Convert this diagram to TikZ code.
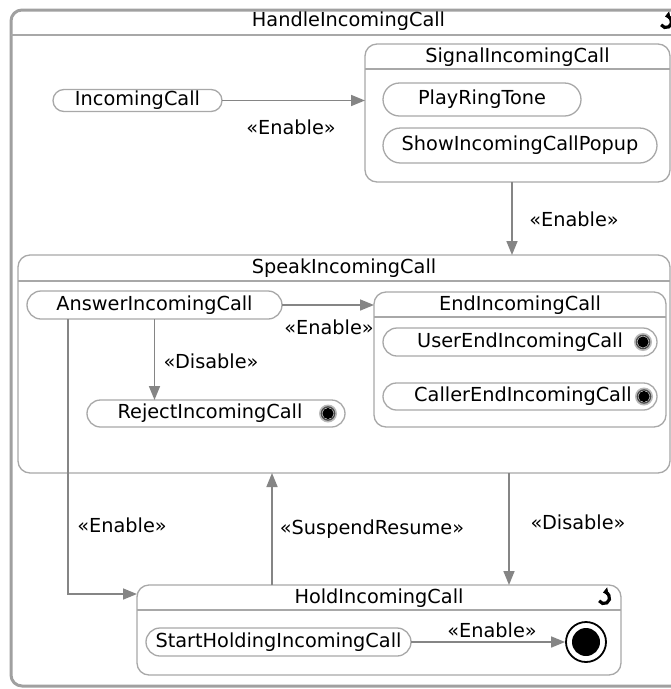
\documentclass[tikz,border=0pt]{standalone}
\usepackage{fontspec}
\setmainfont{DejaVu Sans}
\usetikzlibrary{arrows.meta,shapes.misc}
\definecolor{boxgray}{HTML}{A8A8A8}
\definecolor{outergray}{HTML}{A0A0A0}
\definecolor{arrgray}{HTML}{858585}
\begin{document}
\begin{tikzpicture}[x=1pt,y=-1pt,
  font=\fontsize{19.3}{22}\selectfont,
  outerbox/.style={draw=outergray, line width=3pt, rounded corners=11pt, inner sep=0pt, outer sep=0pt, rectangle},
  box/.style={draw=boxgray, line width=1.3pt, rounded corners=12pt, inner sep=0pt, outer sep=0pt, rectangle},
  act/.style={draw=boxgray, line width=1.3pt, rounded rectangle, inner sep=0pt, outer sep=0pt},
  sepline/.style={draw=boxgray, line width=1.2pt},
  conn/.style={draw=arrgray, line width=1.6pt, -{Triangle[length=14pt,width=11pt]}},
  lbl/.style={inner sep=0pt},
  loopico/.pic={\draw[line width=3.2pt, -{Triangle[length=5pt,width=8.5pt]}] (150:5.6) arc (150:-100:5.6);},
  endmark/.pic={\fill[gray!55] (0,0) circle (9); \fill[white] (0,0) circle (7.2); \draw[gray!60!black, line width=1.4pt] (0,0) circle (6.6); \fill[black] (0,0) circle (5.6);}
]
\useasboundingbox (0,0) rectangle (671,689);
\fill[white] (0,0) rectangle (671,689);
\clip (0,0) rectangle (671,689);

% outer container
\node[outerbox, minimum width=675, minimum height=676] (handle) at (348.5,348) {};
\draw[sepline] ([yshift=-25pt]handle.north west) -- ([yshift=-25pt]handle.north east);
\node (handleT) at (348.5,21) {HandleIncomingCall};
\pic at (666,22) {loopico};

% SignalIncomingCall
\node[box, minimum width=305, minimum height=138] (sig) at (517.5,113) {};
\draw[sepline] ([yshift=-25pt]sig.north west) -- ([yshift=-25pt]sig.north east);
\node (sigT) at (517.5,57) {SignalIncomingCall};
\node[act, minimum width=198, minimum height=33] (ring) at (482,99.5) {PlayRingTone};
\node[act, minimum width=274, minimum height=35] (popup) at (520,145.5) {ShowIncomingCallPopup};

% IncomingCall
\node[act, minimum width=169, minimum height=22] (inc) at (137.5,100.5) {IncomingCall};

% SpeakIncomingCall
\node[box, minimum width=652, minimum height=218] (speak) at (344,364) {};
\draw[sepline] ([yshift=-26pt]speak.north west) -- ([yshift=-26pt]speak.north east);
\node (speakT) at (344,268) {SpeakIncomingCall};
\node[act, minimum width=255, minimum height=28] (ans) at (154.5,305) {AnswerIncomingCall};
\node[act, minimum width=258, minimum height=27] (rej) at (216,413.5) {RejectIncomingCall\hspace*{12pt}};
\pic at (328,413.5) {endmark};

% EndIncomingCall
\node[box, minimum width=292, minimum height=135] (endc) at (520,359.5) {};
\draw[sepline] ([yshift=-25pt]endc.north west) -- ([yshift=-25pt]endc.north east);
\node (endT) at (520,305) {EndIncomingCall};
\node[act, minimum width=274, minimum height=28] (uend) at (520,342) {UserEndIncomingCall};
\pic at (643,342) {endmark};
\node[act, minimum width=274, minimum height=27] (cend) at (520,396.5) {\hspace*{6pt}CallerEndIncomingCall};
\pic at (644,396.5) {endmark};

% HoldIncomingCall
\node[box, minimum width=484, minimum height=90] (hold) at (379,630) {};
\draw[sepline] ([yshift=-25pt]hold.north west) -- ([yshift=-25pt]hold.north east);
\node (holdT) at (379,598) {HoldIncomingCall};
\pic at (604,598) {loopico};
\node[act, minimum width=265, minimum height=28] (sh) at (278.5,642) {StartHoldingIncomingCall};
\node[circle, draw=black, line width=1.8pt, minimum size=40pt, inner sep=0pt] (fin) at (586,642) {};
\fill[black] (fin.center) circle (14);

% connectors
\draw[conn] (inc.east) -- (inc.east -| sig.west);
\node[lbl] (l1) at (291,127) {«Enable»};

\draw[conn] (512,0 |- sig.south) -- (512,0 |- speak.north);
\node[lbl] (l2) at (574,219) {«Enable»};

\draw[conn] (ans.east) -- (ans.east -| endc.west);
\node[lbl] (l3) at (329,327) {«Enable»};

\draw[conn] (ans.south) -- (ans.south |- rej.north);
\node[lbl] (l4) at (211,361) {«Disable»};

\draw[conn] (68,0 |- ans.south) |- ([yshift=-9pt]hold.north west);
\node[lbl] (l5) at (122,525) {«Enable»};

\draw[conn] (272,0 |- hold.north) -- (272,0 |- speak.south);
\node[lbl] (l6) at (372,529) {«SuspendResume»};

\draw[conn] (509,0 |- speak.south) -- (509,0 |- hold.north);
\node[lbl] (l7) at (578,522) {«Disable»};

\draw[conn] (sh.east) -- (fin.west);
\node[lbl] (l8) at (492,630) {«Enable»};
\end{tikzpicture}
\end{document}
